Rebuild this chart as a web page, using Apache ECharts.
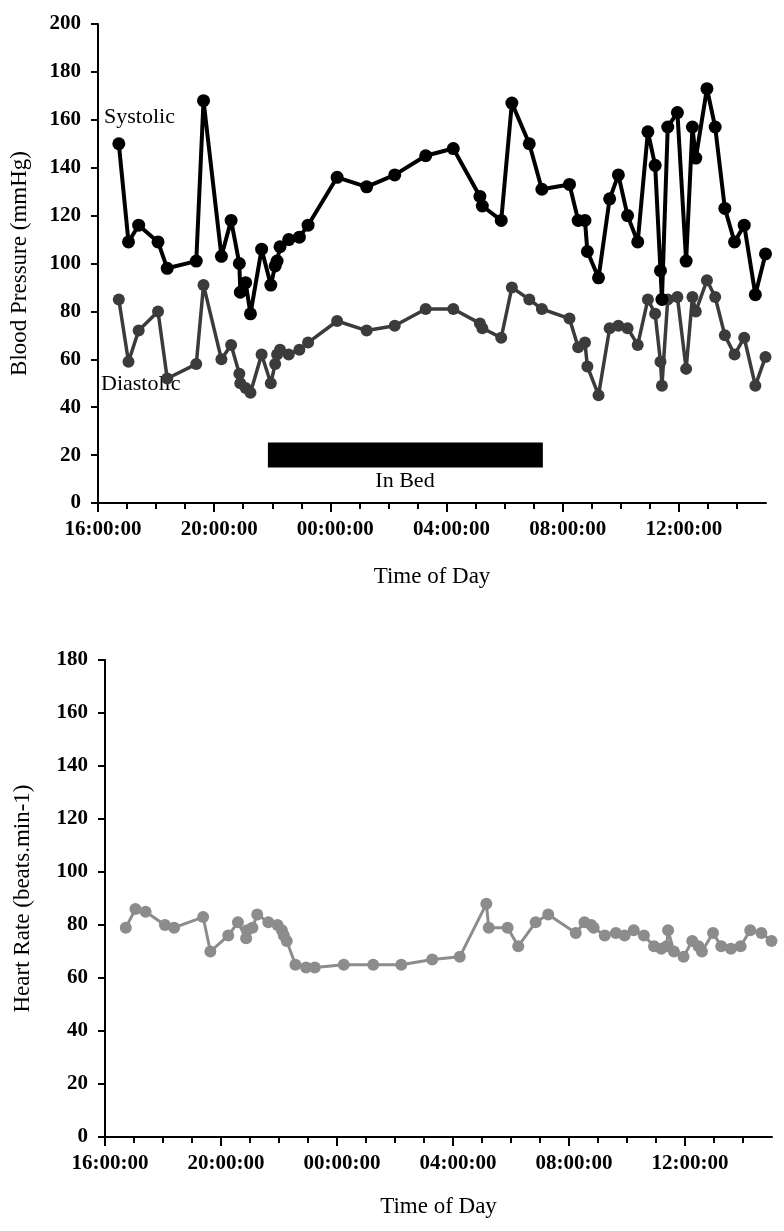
<!DOCTYPE html>
<html>
<head>
<meta charset="utf-8">
<script src="https://cdn.jsdelivr.net/npm/echarts@6/dist/echarts.min.js"></script>
<style>
  html, body { margin: 0; padding: 0; background: #fff; }
  #chart { width: 784px; height: 1231px; }
</style>
</head>
<body>
<div id="chart"></div>
<script>
// ---- Data ----
const times = ["16:43","17:03","17:24","18:04","18:23","19:23","19:38","20:15","20:35","20:52","20:54","21:05","21:15","21:38","21:57","22:06","22:10","22:16","22:34","22:56","23:14","00:14",
  "01:15","02:13","03:17","04:14","05:09","05:14","05:53","06:15","06:51","07:17",
  "08:14","08:32","08:46","08:51","09:14","09:37","09:55","10:14","10:35","10:56","11:11","11:22","11:25","11:37","11:57","12:15","12:28","12:35","12:58","13:15","13:35","13:55","14:15","14:38","14:59"];
const systolic = [150,109,116,109,98,101,168,103,118,100,88,92,79,106,91,99,101,107,110,111,116,136,
  132,137,145,148,128,124,118,167,150,131,
  133,118,118,105,94,127,137,120,109,155,141,97,85,157,163,101,157,144,173,157,123,109,116,87,104];
const diastolic = [85,59,72,80,52,58,91,60,66,54,50,48,46,62,50,58,62,64,62,64,67,76,
  72,74,81,81,75,73,69,90,85,81,
  77,65,67,57,45,73,74,73,66,85,79,59,49,85,86,56,86,80,93,86,70,62,69,49,61];
const heartRate = [79,86,85,80,79,83,70,76,81,75,78,79,84,81,80,78,76,74,65,64,64,65,
  65,65,67,68,88,79,79,72,81,84,
  77,81,80,79,76,77,76,78,76,72,71,72,78,70,68,74,72,70,77,72,71,72,78,77,74];
const inBedStart = "21:51";
const inBedEnd = "07:19";
const inBedLevel = 20;
const axisStartHour = 16;   // 16:00:00
const axisHours = 23;       // to 15:00:00 next day
const majorHours = [0, 4, 8, 12, 16, 20];
const bpTicks = [0, 200, 20];
const hrTicks = [0, 180, 20];

// ---- helpers ----
function toOffset(t) {
  const [h, m] = t.split(":").map(Number);
  return ((h + m / 60 - axisStartHour) + 24) % 24;
}
function clockLabel(v) {
  const h = (axisStartHour + Math.round(v)) % 24;
  return (h < 10 ? "0" : "") + h + ":00:00";
}
const xs = times.map(toOffset);
const pair = arr => arr.map((v, i) => [xs[i], v]);

const FONT = "Liberation Serif";
const axisLineStyle = { color: "#000", width: 2 };

function timeAxis(gridIndex, gap) {
  return {
    type: "value", gridIndex, position: "bottom", min: 0, max: axisHours, interval: 1,
    axisLine: { show: true, lineStyle: axisLineStyle },
    axisTick: { show: true, length: 6, lineStyle: { color: "#000", width: 2 } },
    splitLine: { show: false },
    axisLabel: {
      color: "#000", fontFamily: FONT, fontSize: 21, fontWeight: "bold", margin: 16,
      padding: [0, 0, 0, 10],
      showMaxLabel: false,
      formatter: v => (majorHours.indexOf(Math.round(v)) >= 0 ? clockLabel(v) : "")
    },
    name: "Time of Day", nameLocation: "middle", nameGap: gap,
    nameTextStyle: { color: "#000", fontFamily: FONT, fontSize: 23 }
  };
}
function majorTickAxis(gridIndex) {
  return {
    type: "value", gridIndex, position: "bottom", min: 0, max: axisHours, interval: 4,
    axisLine: { show: false },
    axisTick: { show: true, length: 9, customValues: majorHours, lineStyle: { color: "#000", width: 2 } },
    axisLabel: { show: false },
    splitLine: { show: false }
  };
}
function valAxis(gridIndex, ticks, name, gap) {
  return {
    type: "value", gridIndex, min: ticks[0], max: ticks[1], interval: ticks[2],
    axisLine: { show: true, lineStyle: axisLineStyle },
    axisTick: { show: true, length: 7, lineStyle: { color: "#000", width: 2 } },
    splitLine: { show: false },
    axisLabel: { color: "#000", fontFamily: FONT, fontSize: 21, fontWeight: "bold", margin: 17 },
    name, nameLocation: "middle", nameGap: gap, nameRotate: 90,
    nameTextStyle: { color: "#000", fontFamily: FONT, fontSize: 23 }
  };
}

const option = {
  animation: false,
  backgroundColor: "#fff",
  grid: [
    { left: 98, top: 24, right: 18, height: 479 },
    { left: 105, top: 660, right: 12, height: 477 }
  ],
  xAxis: [timeAxis(0, 62), timeAxis(1, 58), majorTickAxis(0), majorTickAxis(1)],
  yAxis: [
    valAxis(0, bpTicks, "Blood Pressure (mmHg)", 67),
    valAxis(1, hrTicks, "Heart Rate (beats.min-1)", 71)
  ],
  series: [
    {
      name: "In Bed", type: "line", xAxisIndex: 0, yAxisIndex: 0,
      data: [[toOffset(inBedStart), inBedLevel], [toOffset(inBedEnd), inBedLevel]],
      showSymbol: false, symbol: "none",
      lineStyle: { color: "#000", width: 25, cap: "butt" }, z: 1
    },
    {
      name: "Diastolic", type: "line", xAxisIndex: 0, yAxisIndex: 0,
      data: pair(diastolic), symbol: "circle", symbolSize: 12,
      lineStyle: { color: "#3b3b3b", width: 3.5 }, itemStyle: { color: "#3b3b3b" }, z: 2
    },
    {
      name: "Systolic", type: "line", xAxisIndex: 0, yAxisIndex: 0,
      data: pair(systolic), symbol: "circle", symbolSize: 13,
      lineStyle: { color: "#000", width: 4 }, itemStyle: { color: "#000" }, z: 3
    },
    {
      name: "Heart Rate", type: "line", xAxisIndex: 1, yAxisIndex: 1,
      data: pair(heartRate), symbol: "circle", symbolSize: 12,
      lineStyle: { color: "#8c8c8c", width: 3 }, itemStyle: { color: "#8c8c8c" }, z: 2
    }
  ],
  graphic: [
    { type: "text", x: 104, y: 117, style: { text: "Systolic", fontFamily: FONT, fontSize: 22, fill: "#000", align: "left", verticalAlign: "middle" } },
    { type: "text", x: 101, y: 384, style: { text: "Diastolic", fontFamily: FONT, fontSize: 22, fill: "#000", align: "left", verticalAlign: "middle" } },
    { type: "text", x: 405, y: 481, style: { text: "In Bed", fontFamily: FONT, fontSize: 22, fill: "#000", align: "center", verticalAlign: "middle" } }
  ]
};

const chart = echarts.init(document.getElementById("chart"), null, { renderer: "canvas" });
chart.setOption(option);
</script>
</body>
</html>
